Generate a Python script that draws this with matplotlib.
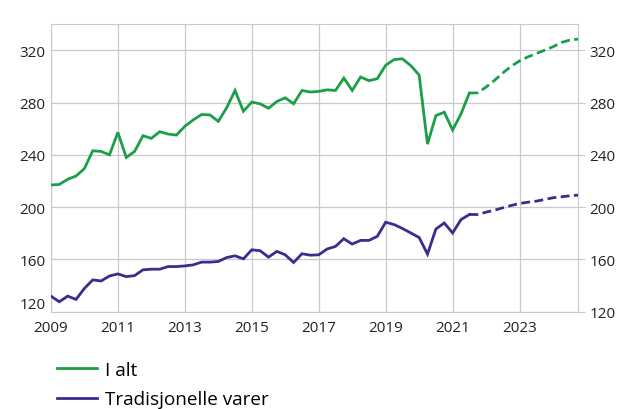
import numpy as np
import matplotlib
matplotlib.use("Agg")
import matplotlib.pyplot as plt
from matplotlib.lines import Line2D

plt.rcParams["font.family"] = ["Open Sans", "DejaVu Sans"]

# kvartalsvis, 2009K1 - 2024K4
quarters = np.arange(2009.0, 2024.76, 0.25)

i_alt = [
    216.9, 217.4, 221.3, 223.8, 229.5, 243.1, 242.6, 240.0,
    257.2, 238.0, 242.6, 254.6, 252.6, 257.7, 255.9, 255.1,
    261.8, 266.7, 270.8, 270.5, 265.6, 276.0, 289.2, 273.3,
    280.3, 279.0, 275.6, 280.8, 283.6, 279.0, 289.2, 288.0,
    288.5, 289.7, 289.2, 298.7, 289.2, 299.5, 296.7, 298.2,
    308.5, 312.8, 313.4, 308.2, 301.0, 248.2, 270.0, 272.6,
    259.0, 271.3, 287.2, 287.4, 291.8, 296.9, 302.6, 307.7,
    311.8, 314.9, 317.4, 320.0, 322.6, 325.9, 327.7, 328.5,
]

tradisjonelle = [
    132.0, 127.7, 132.0, 129.5, 137.9, 144.4, 143.6, 147.4,
    149.0, 146.9, 147.7, 152.1, 152.6, 152.6, 154.6, 154.6,
    155.1, 155.9, 158.0, 158.0, 158.5, 161.5, 162.8, 160.5,
    167.4, 166.7, 161.8, 166.2, 163.6, 157.7, 164.4, 163.3,
    163.6, 168.0, 170.0, 175.9, 171.8, 174.6, 174.6, 177.7,
    188.5, 186.7, 183.7, 180.3, 176.8, 164.1, 183.3, 187.9,
    180.3, 190.5, 194.4, 194.4, 196.2, 197.7, 199.5, 201.3,
    202.8, 203.8, 204.6, 205.9, 207.2, 207.9, 208.7, 209.2,
]

labels = ["I alt", "Tradisjonelle varer"]
split = 2021.5  # fra her er tallene framskrivninger
green = "#1b9e48"
purple = "#3f2a8d"
grey = "#c9c9c9"

fig = plt.figure(figsize=(6.21, 4.10), dpi=100)
ax = fig.add_axes([0.082, 0.237, 0.849, 0.702])

x = quarters
obs = x <= split
prog = x >= split
for y, c in [(np.array(i_alt), green), (np.array(tradisjonelle), purple)]:
    ax.plot(x[obs], y[obs], color=c, lw=2.0, solid_joinstyle="miter", zorder=3)
    ax.plot(x[prog], y[prog], color=c, lw=2.0, ls=(0, (3.2, 1.6)), zorder=3)

ax.set_xlim(2009, 2024.75)
ax.set_ylim(120, 340)
ax.set_yticks(range(120, 321, 40))
ax.set_xticks(range(2009, 2024, 2))
ax.grid(True, color=grey, lw=0.9)
ax.set_axisbelow(True)
for s in ax.spines.values():
    s.set_color(grey)
ax.tick_params(axis="y", length=0, labelsize=11, pad=4, colors="#222222")
ax.tick_params(axis="x", length=0, labelsize=11, pad=6, colors="#222222")
# nederste etikett litt opp, som i originalen
ax.get_yticklabels()[0].set_va("bottom")

ax2 = ax.twinx()
ax2.set_ylim(ax.get_ylim())
ax2.set_yticks(range(120, 321, 40))
for s in ax2.spines.values():
    s.set_visible(False)
ax2.tick_params(axis="y", length=5, labelsize=11, pad=3, colors="#222222")
ax2.tick_params(axis="y", color=grey)

handles = [
    Line2D([], [], color=green, lw=2.0),
    Line2D([], [], color=purple, lw=2.0),
]
fig.legend(handles, labels, loc="upper left",
           bbox_to_anchor=(0.092, 0.118), frameon=False, fontsize=13.6,
           handlelength=2.1, handletextpad=0.42, labelspacing=0.62,
           borderpad=0, borderaxespad=0)

fig.savefig("out.png", dpi=100)
